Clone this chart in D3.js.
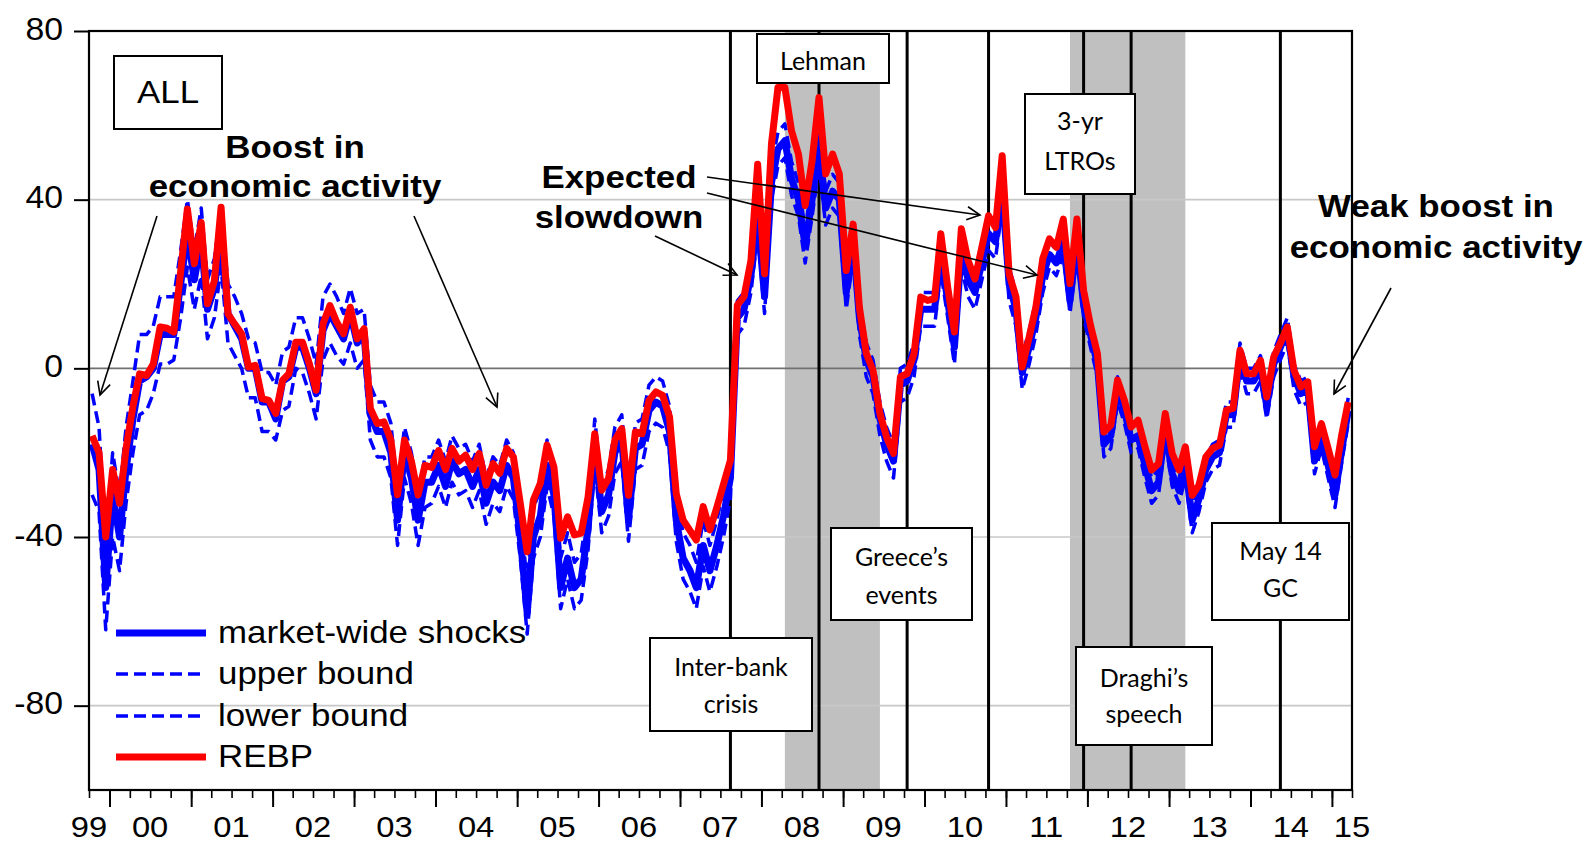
<!DOCTYPE html>
<html><head><meta charset="utf-8">
<script src="https://cdn.jsdelivr.net/npm/d3@7/dist/d3.min.js"></script>
<style>
body{margin:0;background:#fff}
svg{display:block}
.ar{font-family:"Liberation Sans",Arial,sans-serif}
.cb{font-family:Lato,"Open Sans",sans-serif}
</style>
</head><body>
<svg id="chart" width="1586" height="844"></svg>
<script>
// ---------------- DATA ----------------
const firstMonth = "1999-10";   // monthly observations, Oct 1999 - Mar 2015
const rebp = [-16,-20,-40,-24,-32,-19,-9,-1.3,-1.7,1,9.8,9.5,8.6,23,37.8,24.8,34.6,15.3,20.8,38.2,
12.9,10.5,8.2,0.3,0.7,-7.2,-7.6,-10.7,-2.8,-1.3,6.2,6.2,1,-5.2,10.6,14.9,11,8.2,14.5,7,
9.4,-9.5,-13.1,-12.7,-17,-30,-17,-22,-30,-23,-23.5,-19.5,-24,-19,-22,-20.6,-24,-20.2,-27.7,-22.6,
-24.9,-19,-21,-32,-43.5,-31.2,-27.3,-18.2,-23.4,-40.3,-35.2,-39.5,-39.1,-30.5,-15.5,-28.9,-26.1,-17,-14.3,-30.1,
-15.1,-15.5,-7.6,-5.6,-6.4,-11.5,-29.7,-36,-38.5,-40.7,-32.8,-38.3,-33,-27.5,-21.8,15,17,25.6,48.4,22.4,
53.2,66.6,66.6,56.3,50.8,38.6,49.2,64.2,46.1,50.8,46.1,23.2,34.2,14.5,3.5,-0.5,-10.7,-16.3,-20.2,-2,
-1.3,3.5,16.9,16.1,16.5,31.9,19.2,8.6,33.1,25.6,21.2,28.7,36.2,33.4,50.4,22.4,16.9,0.3,7.4,14.5,
26,30.7,28.7,35.4,20.1,35.4,18.5,10.2,3.5,-15.1,-13.5,-2.8,-7.6,-13.9,-12.3,-18.6,-24.1,-22.6,-10.7,-20.2,
-24.1,-18.6,-30.1,-27.7,-21,-19,-18.2,-9.9,-9.5,4.3,-1.3,-1.3,1.9,-6.8,2.7,6,9.8,-0.5,-4.4,-3.2,
-18.6,-13.1,-19,-25.3,-15.5,-8];
const marketWide = [-18,-24,-52,-30,-40,-24,-12,-3,-2,0,8,8,8,20,32,21,30,14,19,32,
13,10,7,0,0,-8,-8,-12,-3,-2,5,5,0,-6,9,13,10,7,13,6,
8,-11,-15,-15,-20,-36,-20,-26,-36,-27,-27,-23,-28,-22,-25,-24,-28,-24,-32,-27,
-29,-23,-26,-40,-58,-40,-35,-23,-30,-52,-45,-52,-50,-38,-18,-34,-30,-20,-17,-36,
-19,-18,-10,-8,-9,-15,-36,-45,-48,-52,-42,-48,-42,-35,-26,12,14,22,36,17,
44,52,54,45,40,29,40,52,38,42,40,18,30,12,2,-2,-12,-18,-22,-4,
-3,2,14,14,14,27,16,5,28,21,18,25,32,30,42,20,14,-1,5,12,
22,27,25,30,16,30,15,8,1,-18,-16,-5,-10,-17,-16,-23,-29,-27,-14,-25,
-29,-23,-36,-31,-24,-21,-20,-11,-11,3,-3,-3,0,-9,1,5,9,-2,-6,-5,
-22,-16,-23,-30,-19,-10];
const upperBound = [-6,-14,-42,-20,-30,-14,-3,8,8,10,17,17,17,28,40,28,38,21,26,38,
20,17,13,7,6,-1,-1,-4,4,5,12,12,7,1,17,20,17,13,19,13,
14,-4,-8,-8,-13,-29,-14,-20,-30,-21,-21,-17,-22,-16,-19,-18,-22,-18,-26,-21,
-23,-17,-20,-34,-51,-33,-29,-17,-24,-45,-39,-46,-44,-32,-12,-28,-24,-14,-11,-30,
-13,-12,-4,-2,-3,-9,-30,-39,-42,-46,-36,-42,-36,-29,-20,16,18,26,40,21,
48,56,58,49,44,33,44,56,42,46,44,22,34,16,6,2,-8,-14,-18,0,
1,6,18,18,18,31,20,9,32,25,22,29,36,34,46,24,18,3,9,16,
26,30,28,33,19,33,18,11,4,-15,-13,-2,-7,-14,-13,-20,-26,-24,-11,-22,
-26,-20,-33,-28,-21,-18,-17,-8,-8,6,0,0,3,-6,4,8,12,1,-3,-2,
-19,-13,-20,-27,-16,-7];
const lowerBound = [-30,-34,-62,-40,-48,-32,-20,-11,-10,-6,1,1,2,12,24,14,22,7,12,24,
6,3,0,-7,-7,-15,-15,-17,-10,-9,0,-1,-6,-12,2,6,3,1,6,0,
2,-17,-21,-21,-26,-42,-26,-32,-42,-33,-32,-28,-33,-27,-30,-29,-33,-29,-37,-32,
-34,-28,-31,-45,-63,-45,-40,-28,-35,-57,-50,-57,-55,-43,-23,-39,-35,-25,-22,-41,
-24,-23,-15,-13,-14,-20,-41,-50,-53,-57,-47,-53,-47,-40,-31,8,10,18,32,13,
40,48,50,41,36,25,36,48,34,38,36,14,26,8,-2,-6,-16,-22,-26,-8,
-7,-2,10,10,10,23,12,1,24,17,14,21,28,26,38,16,10,-5,1,8,
18,24,22,27,13,27,12,5,-2,-21,-19,-8,-13,-20,-19,-26,-32,-30,-17,-28,
-32,-26,-39,-34,-27,-24,-23,-14,-14,0,-6,-6,-3,-12,-2,2,6,-5,-9,-8,
-25,-19,-26,-33,-22,-13];
const yTickValues = [80, 40, 0, -40, -80];
const xTickLabels = ["99","00","01","02","03","04","05","06","07","08","09","10","11","12","13","14","15"];
const shadedPeriods = [["2008-04","2009-06"],["2011-10","2013-03"]];
const eventMonths = ["2007-08","2008-09","2009-10","2010-10","2011-12","2012-07","2014-05"];
const eventLabels = [["Inter-bank","crisis"],["Lehman"],["Greece\u2019s","events"],["3-yr","LTROs"],["Draghi\u2019s","speech"],["May 14","GC"]];
const legendLabels = ["market-wide shocks","upper bound","lower bound","REBP"];
const panelLabel = "ALL";
const noteLabels = [["Boost in","economic activity"],["Expected","slowdown"],["Weak boost in","economic activity"]];

// ---------------- SETUP ----------------
const svg = d3.select("#chart");
const plot = {left: 89, right: 1352, top: 31, bottom: 790};
const parseMonth = d3.timeParse("%Y-%m");
const start = parseMonth(firstMonth);
const end = d3.timeMonth.offset(start, rebp.length);
const midMonth = d => d3.timeDay.offset(d, 14);
const dates = rebp.map((_, i) => midMonth(d3.timeMonth.offset(start, i)));

const x = d3.scaleTime().domain([start, end]).range([plot.left, plot.right]);
const y = d3.scaleLinear().domain([-100, 80]).range([plot.bottom, plot.top]);
const STRETCH = 1.09;

// shaded periods
svg.append("g").selectAll("rect").data(shadedPeriods).join("rect")
  .attr("x", d => x(midMonth(parseMonth(d[0]))))
  .attr("width", d => x(midMonth(parseMonth(d[1]))) - x(midMonth(parseMonth(d[0]))))
  .attr("y", plot.top).attr("height", plot.bottom - plot.top)
  .attr("fill", "#c0c0c0");

// gridlines
svg.append("g").selectAll("line").data([40, 0, -40, -80]).join("line")
  .attr("x1", plot.left).attr("x2", plot.right)
  .attr("y1", d => y(d)).attr("y2", d => y(d))
  .attr("stroke", d => d === 0 ? "#707070" : "#c8c8c8")
  .attr("stroke-width", 1.6);

// event lines
svg.append("g").selectAll("line").data(eventMonths).join("line")
  .attr("x1", d => x(midMonth(parseMonth(d)))).attr("x2", d => x(midMonth(parseMonth(d))))
  .attr("y1", plot.top).attr("y2", plot.bottom)
  .attr("stroke", "#000").attr("stroke-width", 3);

// series lines
const line = d3.line().x((d, i) => x(dates[i])).y(d => y(d)).curve(d3.curveLinear);
svg.append("clipPath").attr("id", "clip").append("rect")
  .attr("x", plot.left).attr("y", plot.top).attr("width", plot.right - plot.left).attr("height", plot.bottom - plot.top);
const gl = svg.append("g").attr("clip-path", "url(#clip)");
[upperBound, lowerBound].forEach(s => gl.append("path").datum(s).attr("d", line)
  .attr("fill", "none").attr("stroke", "#0000ff").attr("stroke-width", 3.5)
  .attr("stroke-dasharray", "12,6").attr("stroke-linejoin", "round"));
gl.append("path").datum(marketWide).attr("d", line)
  .attr("fill", "none").attr("stroke", "#0000ff").attr("stroke-width", 7).attr("stroke-linejoin", "round");
gl.append("path").datum(rebp).attr("d", line)
  .attr("fill", "none").attr("stroke", "#ff0000").attr("stroke-width", 7).attr("stroke-linejoin", "round");

// frame
svg.append("rect").attr("x", plot.left).attr("y", plot.top)
  .attr("width", plot.right - plot.left).attr("height", plot.bottom - plot.top)
  .attr("fill", "none").attr("stroke", "#000").attr("stroke-width", 2.2);

// y axis
const yAxis = svg.append("g").attr("transform", `translate(${plot.left},0)`)
  .call(d3.axisLeft(y).tickValues(yTickValues).tickSize(15).tickPadding(11).tickFormat(d => String(d)));
yAxis.select(".domain").remove();
yAxis.selectAll("line").attr("stroke-width", 2);
yAxis.selectAll("text").attr("class", "ar stretch").attr("font-size", 31).attr("fill", "#000").attr("dy", 8);

// x axis ticks
const quarters = d3.timeMonth.range(start, d3.timeDay.offset(end, 1), 3);
const years = quarters.filter(d => d.getMonth() === 0);
const xMinor = svg.append("g").attr("transform", `translate(0,${plot.bottom})`)
  .call(d3.axisBottom(x).tickValues(quarters).tickSize(8).tickFormat(""));
xMinor.select(".domain").remove();
xMinor.selectAll("line").attr("stroke-width", 1.6);
const xMajor = svg.append("g").attr("transform", `translate(0,${plot.bottom})`)
  .call(d3.axisBottom(x).tickValues(years).tickSize(17).tickFormat(""));
xMajor.select(".domain").remove();
xMajor.selectAll("line").attr("stroke-width", 2);

// x labels
const labelX = (lab, i) => {
  if (i === 0) return x(start);
  if (i === xTickLabels.length - 1) return x(end);
  return x(new Date(1999 + i, 6, 1));
};
svg.append("g").selectAll("text").data(xTickLabels).join("text")
  .attr("class", "ar stretch").attr("font-size", 30)
  .attr("x", labelX).attr("y", 837).attr("text-anchor", "middle").text(d => d);

// arrows
const defs = svg.append("defs");
defs.append("marker").attr("id", "arr").attr("markerUnits", "userSpaceOnUse")
  .attr("viewBox", "-14 -8 16 16").attr("refX", 0).attr("refY", 0)
  .attr("markerWidth", 16).attr("markerHeight", 16).attr("orient", "auto")
  .append("path").attr("d", "M-13,-6.5 L0,0 L-13,6.5").attr("fill", "none")
  .attr("stroke", "#000").attr("stroke-width", 1.6);
const arrows = [
  [157, 216, 100, 395], [414, 216, 497, 407],
  [655, 236, 737, 275], [707, 177, 980, 215], [707, 193, 1037, 275],
  [1391, 288, 1334, 394]
];
svg.append("g").selectAll("line").data(arrows).join("line")
  .attr("x1", d => d[0]).attr("y1", d => d[1]).attr("x2", d => d[2]).attr("y2", d => d[3])
  .attr("stroke", "#000").attr("stroke-width", 1.6).attr("marker-end", "url(#arr)");

// annotation notes
const notePos = [[295, 158, 197], [619, 188, 228], [1436, 217, 258]];
noteLabels.forEach((lines, k) => {
  lines.forEach((t, r) => {
    svg.append("text").attr("class", "ar stretch").attr("font-size", 32).attr("font-weight", "bold")
      .attr("x", notePos[k][0]).attr("y", notePos[k][r + 1]).attr("text-anchor", "middle").text(t);
  });
});

// event boxes
const boxGeom = [
  {x: 650, y: 638, w: 162, h: 93, b: [676, 713]},
  {x: 757, y: 34, w: 132, h: 49, b: [70]},
  {x: 831, y: 528, w: 141, h: 92, b: [566, 604]},
  {x: 1025, y: 94, w: 110, h: 100, b: [130, 170]},
  {x: 1076, y: 647, w: 136, h: 98, b: [687, 723]},
  {x: 1212, y: 523, w: 137, h: 97, b: [560, 597]}
];
eventLabels.forEach((lines, k) => {
  const g = boxGeom[k];
  svg.append("rect").attr("x", g.x).attr("y", g.y).attr("width", g.w).attr("height", g.h)
    .attr("fill", "#fff").attr("stroke", "#000").attr("stroke-width", 2);
  lines.forEach((t, r) => svg.append("text").attr("class", "cb").attr("font-size", 25)
    .attr("x", g.x + g.w / 2).attr("y", g.b[r]).attr("text-anchor", "middle").text(t));
});

// panel label
svg.append("rect").attr("x", 114).attr("y", 56).attr("width", 108).attr("height", 73)
  .attr("fill", "#fff").attr("stroke", "#000").attr("stroke-width", 2);
svg.append("text").attr("class", "ar stretch").attr("font-size", 32)
  .attr("x", 168).attr("y", 103).attr("text-anchor", "middle").text(panelLabel);

// legend
const legendY = [633, 674, 716, 757];
const legendStyle = [
  {c: "#0000ff", w: 7, d: null}, {c: "#0000ff", w: 3.5, d: "12,6"},
  {c: "#0000ff", w: 3.5, d: "12,6"}, {c: "#ff0000", w: 7, d: null}
];
legendLabels.forEach((t, k) => {
  svg.append("line").attr("x1", 116).attr("x2", 206).attr("y1", legendY[k]).attr("y2", legendY[k])
    .attr("stroke", legendStyle[k].c).attr("stroke-width", legendStyle[k].w)
    .attr("stroke-dasharray", legendStyle[k].d);
  svg.append("text").attr("class", "ar stretch").attr("font-size", 32)
    .attr("x", 218).attr("y", legendY[k] + 10).text(t);
});

// horizontal stretch of Arial-like text
svg.selectAll("text.stretch").each(function() {
  const len = this.getComputedTextLength();
  d3.select(this).attr("textLength", len * STRETCH).attr("lengthAdjust", "spacingAndGlyphs");
});
</script>
</body></html>
